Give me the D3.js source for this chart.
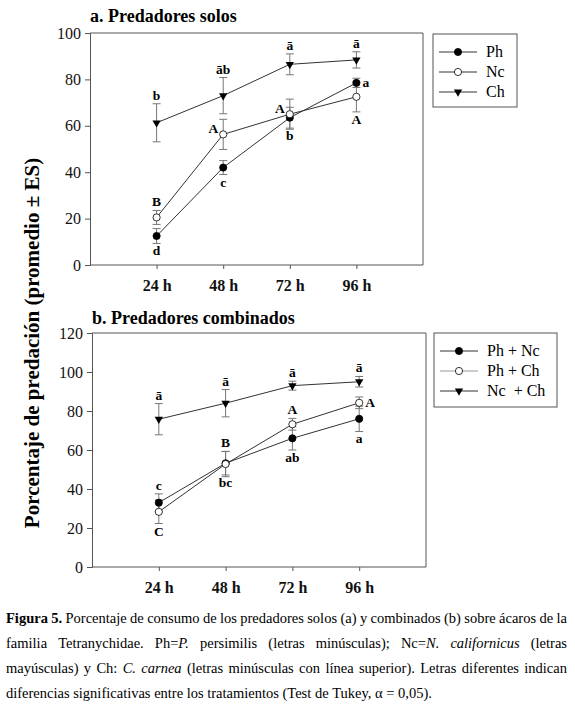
<!DOCTYPE html>
<html>
<head>
<meta charset="utf-8">
<script src="https://cdn.jsdelivr.net/npm/d3@7"></script>
<style>
  body { margin: 0; background: #fff; }
  svg { display: block; font-family: "Liberation Serif", "Times New Roman", serif; }
</style>
</head>
<body>
<div id="chart"></div>
<script>
// tiempos y etiquetas
const hours = [24, 48, 72, 96];
const xTickLabels = ["24 h", "48 h", "72 h", "96 h"];
const yTicksA = [0, 20, 40, 60, 80, 100];
const yTicksB = [0, 20, 40, 60, 80, 100, 120];

// a. predadores solos
const namesA = ["Ph", "Nc", "Ch"];
const phA = [12.5, 42, 63.5, 78.5];
const phAErr = [3.2, 3, 4.5, 2];
const ncA = [20.5, 56.3, 65, 72.5];
const ncAErr = [3, 6.5, 6.5, 6.5];
const chA = [61.3, 73, 86.5, 88.4];
const chAErr = [8.2, 7.8, 4.5, 3.5];
const phALetters = ["d", "c", "b", "a"];
const ncALetters = ["B", "A", "A", "A"];
const chALetters = ["b", "āb", "ā", "ā"];
const phASide = ["below", "below", "below", "right"];
const ncASide = ["above", "left", "left", "below"];
const chASide = ["above", "above", "above", "above"];

// b. predadores combinados
const namesB = ["Ph + Nc", "Ph + Ch", "Nc  + Ch"];
const phNcB = [33, 53.2, 66, 76];
const phNcBErr = [4.5, 6, 6, 6.5];
const phChB = [28.3, 52.8, 73.2, 84.2];
const phChBErr = [6, 6.5, 3, 3];
const ncChB = [75.8, 84, 93, 95];
const ncChBErr = [8, 7, 2.3, 2.7];
const phNcLetters = ["c", "bc", "ab", "a"];
const phChLetters = ["C", "B", "A", "A"];
const ncChLetters = ["ā", "ā", "ā", "ā"];
const phNcSide = ["above", "below", "below", "below"];
const phChSide = ["below", "above", "above", "right"];
const ncChSide = ["above", "above", "above", "above"];

const W = 575, H = 704;
const svg = d3.select('#chart').append('svg')
    .attr('width', W)
    .attr('height', H);

const lineColor = '#333';
const errColor = '#777';

function panel(opts) {
    const x = d3.scaleLinear().domain([0, 120]).range([opts.left, opts.right]);
    const y = d3.scaleLinear().domain([0, opts.ymax]).range([opts.bottom, opts.top]);
    const g = svg.append('g');

    g.append('text')
        .attr('x', opts.left)
        .attr('y', opts.titleY)
        .attr('font-size', 18)
        .attr('font-weight', 'bold')
        .text(opts.title);

    // left axis
    const yAxis = g.append('g')
        .attr('transform', `translate(${opts.left},0)`)
        .call(d3.axisLeft(y).tickValues(opts.yTicks).tickSize(5).tickPadding(4));
    yAxis.selectAll('text').attr('font-size', 16).attr('font-family', 'Liberation Serif').attr('fill', '#111');
    yAxis.selectAll('line').attr('stroke', '#555');
    yAxis.select('.domain').attr('stroke', '#555');

    // bottom axis
    const xAxis = g.append('g')
        .attr('transform', `translate(0,${opts.bottom})`)
        .call(d3.axisBottom(x).tickValues(hours).tickSize(4).tickPadding(11)
            .tickFormat((d, i) => xTickLabels[i]));
    xAxis.selectAll('text').attr('font-size', 16).attr('font-weight', 'bold')
        .attr('font-family', 'Liberation Serif').attr('fill', '#111');
    xAxis.selectAll('line').attr('stroke', '#555');
    xAxis.select('.domain').attr('stroke', '#555').attr('d', `M${opts.left},0H${opts.right}`);

    // top and right frame
    g.append('path')
        .attr('d', `M${opts.left},${opts.top}H${opts.right}V${opts.bottom}`)
        .attr('fill', 'none')
        .attr('stroke', '#555');

    const line = d3.line().x((d, i) => x(hours[i])).y(d => y(d));

    opts.series.forEach(s => {
        g.append('path')
            .datum(s.values)
            .attr('d', line)
            .attr('fill', 'none')
            .attr('stroke', lineColor)
            .attr('stroke-width', 1);
    });

    opts.series.forEach(s => {
        const eb = g.append('g');
        s.values.forEach((v, i) => {
            const cx = x(hours[i]);
            const y1 = y(v + s.err[i]), y0 = y(v - s.err[i]);
            eb.append('line').attr('x1', cx).attr('x2', cx).attr('y1', y1).attr('y2', y0)
                .attr('stroke', errColor);
            [y1, y0].forEach(yy => {
                eb.append('line').attr('x1', cx - 4).attr('x2', cx + 4).attr('y1', yy).attr('y2', yy)
                    .attr('stroke', errColor);
            });
        });
    });

    opts.series.forEach(s => {
        s.values.forEach((v, i) => {
            drawMarker(g, s.marker, x(hours[i]), y(v));
        });
    });

    // letras
    opts.series.forEach(s => {
        s.values.forEach((v, i) => {
            const cx = x(hours[i]);
            let tx = cx, ty, anchor = 'middle';
            const side = s.side[i];
            if (side === 'above') ty = y(v + s.err[i]) - 4;
            else if (side === 'below') ty = y(v - s.err[i]) + 12;
            else if (side === 'left') { tx = cx - 5; ty = y(v) - 1; anchor = 'end'; }
            else { tx = cx + 6; ty = y(v) + 4; anchor = 'start'; }
            g.append('text')
                .attr('x', tx)
                .attr('y', ty)
                .attr('text-anchor', anchor)
                .attr('font-size', 13.5)
                .attr('font-weight', 'bold')
                .text(s.letters[i]);
        });
    });

    // leyenda
    const lg = svg.append('g');
    lg.append('rect')
        .attr('x', opts.legend.x).attr('y', opts.legend.y)
        .attr('width', opts.legend.w).attr('height', opts.legend.h)
        .attr('fill', '#fff').attr('stroke', '#555');
    opts.series.forEach((s, i) => {
        const ly = opts.legend.y + 18 + i * 20;
        const lx = opts.legend.x + 6;
        lg.append('line').attr('x1', lx).attr('x2', lx + 38).attr('y1', ly).attr('y2', ly)
            .attr('stroke', s.legendColor || lineColor);
        drawMarker(lg, s.marker, lx + 19, ly);
        lg.append('text')
            .attr('x', lx + 47)
            .attr('y', ly + 5)
            .attr('font-size', 16)
            .style('white-space', 'pre')
            .text(s.name);
    });
}

function drawMarker(g, type, cx, cy) {
    if (type === 'tri') {
        g.append('path')
            .attr('d', d3.symbol().type(d3.symbolTriangle).size(30))
            .attr('transform', `translate(${cx},${cy}) rotate(180)`)
            .attr('fill', '#000');
    } else {
        g.append('circle')
            .attr('cx', cx).attr('cy', cy).attr('r', 3.6)
            .attr('fill', type === 'open' ? '#fff' : '#000')
            .attr('stroke', '#000')
            .attr('stroke-width', 0.8);
    }
}

panel({
    title: 'a. Predadores solos', titleY: 22,
    left: 90, right: 423, top: 33, bottom: 265, ymax: 100, yTicks: yTicksA,
    legend: { x: 433, y: 34, w: 84, h: 73 },
    series: [
        { name: namesA[0], values: phA, err: phAErr, marker: 'filled', letters: phALetters, side: phASide },
        { name: namesA[1], values: ncA, err: ncAErr, marker: 'open', letters: ncALetters, side: ncASide },
        { name: namesA[2], values: chA, err: chAErr, marker: 'tri', letters: chALetters, side: chASide }
    ]
});

panel({
    title: 'b. Predadores combinados', titleY: 324,
    left: 92, right: 426, top: 333, bottom: 567, ymax: 120, yTicks: yTicksB,
    legend: { x: 434, y: 333, w: 123, h: 74 },
    series: [
        { name: namesB[0], values: phNcB, err: phNcBErr, marker: 'filled', letters: phNcLetters, side: phNcSide },
        { name: namesB[1], values: phChB, err: phChBErr, marker: 'open', letters: phChLetters, side: phChSide, legendColor: '#999' },
        { name: namesB[2], values: ncChB, err: ncChBErr, marker: 'tri', letters: ncChLetters, side: ncChSide }
    ]
});

// etiqueta del eje y
svg.append('text')
    .attr('transform', 'translate(39,343) rotate(-90)')
    .attr('text-anchor', 'middle')
    .attr('font-size', 21)
    .attr('font-weight', 'bold')
    .text('Porcentaje de predación (promedio ± ES)');

// pie de figura, justificado
const captionLines = [
    [['b', 'Figura 5.'], ['n', ' Porcentaje de consumo de los predadores solos (a) y combinados (b) sobre ácaros de la']],
    [['n', 'familia Tetranychidae. Ph='], ['i', 'P.'], ['n', ' persimilis (letras minúsculas); Nc='], ['i', 'N. californicus'], ['n', ' (letras']],
    [['n', 'mayúsculas) y Ch: '], ['i', 'C. carnea'], ['n', ' (letras minúsculas con línea superior). Letras diferentes indican']],
    [['n', 'diferencias significativas entre los tratamientos (Test de Tukey, α = 0,05).']]
];
const capLeft = 6, capRight = 567, capTop = 623, capStep = 25;

captionLines.forEach((runs, li) => {
    // separar en palabras manteniendo el estilo
    const words = [[]];
    runs.forEach(([st, txt]) => {
        txt.split(/( )/).forEach(part => {
            if (part === ' ') { if (words[words.length - 1].length) words.push([]); }
            else if (part) words[words.length - 1].push([st, part]);
        });
    });
    if (!words[words.length - 1].length) words.pop();
    const ty = capTop + li * capStep;
    const nodes = words.map(w => {
        const t = svg.append('text').attr('y', ty).attr('font-size', 14.5);
        w.forEach(([st, part]) => {
            t.append('tspan')
                .attr('font-weight', st === 'b' ? 'bold' : null)
                .attr('font-style', st === 'i' ? 'italic' : null)
                .text(part);
        });
        return t;
    });
    const widths = nodes.map(n => n.node().getComputedTextLength());
    const total = d3.sum(widths);
    const last = li === captionLines.length - 1;
    const gap = last ? 3.6 : (capRight - capLeft - total) / (nodes.length - 1);
    let cx = capLeft;
    nodes.forEach((n, i) => {
        n.attr('x', cx);
        cx += widths[i] + gap;
    });
});
</script>
</body>
</html>
